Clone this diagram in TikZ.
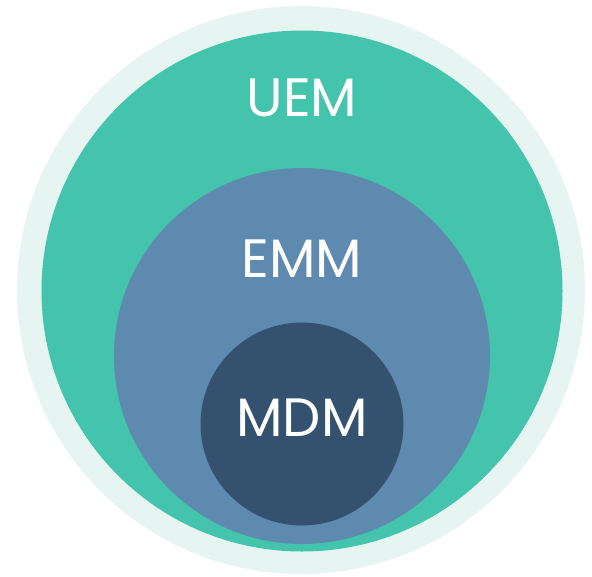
\documentclass[tikz,border=0pt]{standalone}
\usepackage{fontspec}
\setmainfont{Poppins}
\definecolor{palec}{HTML}{E6F5F1}
\definecolor{greenc}{HTML}{44C4AD}
\definecolor{bluec}{HTML}{5E8AAF}
\definecolor{darkc}{HTML}{34526F}
\begin{document}
\begin{tikzpicture}[x=1pt,y=-1pt,
  disc/.style={circle,inner sep=0pt,draw=none},
  lbl/.style={text=white,font=\fontsize{54}{54}\selectfont,inner sep=0pt}]
\useasboundingbox (0,0) rectangle (592,576);
\node[disc,fill=palec,minimum size=568pt] (outer) at (301,290) {};
\node[disc,fill=greenc,minimum size=521pt] (uem) at (302,291) {};
\node[disc,fill=bluec,minimum size=376pt] (emm) at (302,356) {};
\node[disc,fill=darkc,minimum size=203pt] (mdm) at (302,424) {};
\node[lbl] (tuem) at (302,97.5) {UEM};
\node[lbl] (temm) at (302,259) {EMM};
\node[lbl] (tmdm) at (302,418) {MDM};
\end{tikzpicture}
\end{document}
